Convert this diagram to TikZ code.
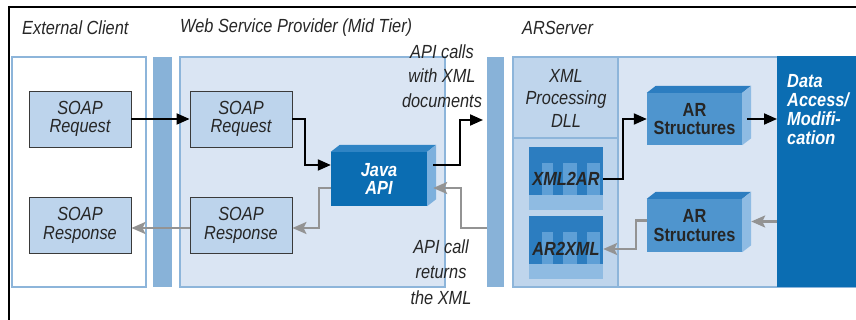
\documentclass[tikz,border=0pt]{standalone}
\usepackage{fontspec}
\setmainfont{Liberation Sans}[FakeStretch=0.86]
\usetikzlibrary{arrows.meta,calc}

\definecolor{edge}{HTML}{8DB5DA}
\definecolor{bar}{HTML}{88B2D8}
\definecolor{pane}{HTML}{DAE5F3}
\definecolor{dll}{HTML}{BFD5EC}
\definecolor{soap}{HTML}{BDD4EC}
\definecolor{boxline}{HTML}{3A3A3A}
\definecolor{deep}{HTML}{0B6DB2}
\definecolor{deeptop}{HTML}{2F84C4}
\definecolor{deepside}{HTML}{7DB0DD}
\definecolor{mid}{HTML}{4F95CE}
\definecolor{midtop}{HTML}{2C7DC0}
\definecolor{midside}{HTML}{8EBBE3}
\definecolor{inset}{HTML}{5E9FD6}
\definecolor{pale}{HTML}{8FBBE2}
\definecolor{ink}{HTML}{262626}
\definecolor{ret}{HTML}{939393}

\newcommand\dfont{\fontsize{19}{18.5}\selectfont}

% top and right faces of a box drawn in perspective
\newcommand\boxfaces[3]{%
  \fill[#2] (#1.north west) -- ++(9,-7) -- ([shift={(9,-7)}]#1.north east) -- (#1.north east) -- cycle;
  \fill[#3] (#1.north east) -- ++(9,-7) -- ([shift={(9,-7)}]#1.south east) -- (#1.south east) -- cycle;}

% converter block with a toothed band, #1 = top edge
\newcommand\toothblock[1]{%
  \fill[pale]  (529,#1) rectangle (603,#1+63);
  \fill[midtop] (529,#1) rectangle (603,#1+48);
  \fill[inset] (542,#1+16) rectangle (553,#1+48);
  \fill[inset] (563,#1+16) rectangle (577,#1+48);
  \fill[inset] (587,#1+16) rectangle (600,#1+48);}

\begin{document}
\begin{tikzpicture}[x=1pt,y=-1pt,
  font=\dfont,
  title/.style={anchor=west, font=\dfont\itshape, text=ink, inner sep=0pt},
  panel/.style={draw=edge, line width=2.5pt},
  soapbox/.style={draw=boxline, fill=soap, line width=0.9pt, minimum width=102pt,
    minimum height=56pt, inner sep=0pt, align=center, font=\dfont\itshape, text=ink},
  solidbox/.style={inner sep=0pt, align=center},
  note/.style={align=center, font=\dfont\itshape, text=ink, inner sep=0pt},
  fwd/.style={line width=2pt, -{Triangle[length=13pt,width=11pt]}},
  back/.style={ret, line width=2.5pt, -{Stealth[length=14pt,width=12pt,inset=3pt]}}]
\useasboundingbox (0,0) rectangle (856,320);

% frame
\draw[line width=2.5pt] (8,7) -- (856,7);
\draw[line width=2.5pt] (9,6) -- (9,320);

% titles
\node[title] (tclient) at (22,28) {External Client};
\node[title] (tweb) at (180,28) {Web Service Provider (Mid Tier)};
\node[title] (tar) at (522,28) {ARServer};

% panels and separators
\filldraw[panel, fill=white] (12,57) rectangle (146,287);
\fill[bar] (153,57) rectangle (172,287);
\filldraw[panel, fill=pane] (180,57) rectangle (445,287);
\fill[bar] (487,57) rectangle (504,287);
\filldraw[panel, fill=pane] (513,57) rectangle (860,287);
\filldraw[panel, fill=dll] (513,57) rectangle (618,287);
\draw[edge, line width=2.5pt] (513,138) -- (618,138);
\node[note] (dllname) at (566,98) {XML\\[4pt]Processing\\[4pt]DLL};

% data store
\node[fill=deep, minimum width=80pt, minimum height=231pt, inner sep=0pt, anchor=north west]
  (store) at (777,56) {};
\node[anchor=north west, align=left, text=white, inner sep=0pt,
  font=\fontsize{19}{19}\selectfont\bfseries\itshape] (storetext) at (787,74)
  {Data\\Access/\\Modifi-\\cation};

% SOAP messages
\node[soapbox] (reqC) at (80,119) {SOAP\\Request};
\node[soapbox] (reqW) at (241,119) {SOAP\\Request};
\node[soapbox] (respC) at (80,225.5) {SOAP\\Response};
\node[soapbox] (respW) at (241,225.5) {SOAP\\Response};

% Java API
\node[solidbox, fill=deep, minimum width=96pt, minimum height=54pt, text=white,
  font=\dfont\bfseries\itshape] (java) at (379,179) {Java\\API};
\boxfaces{java}{deeptop}{deepside}

% AR structures
\node[solidbox, fill=mid, minimum width=95pt, minimum height=52pt, text=ink,
  font=\dfont\bfseries] (ars1) at (694.5,119) {AR\\Structures};
\boxfaces{ars1}{midtop}{midside}
\node[solidbox, fill=mid, minimum width=95pt, minimum height=53pt, text=ink,
  font=\dfont\bfseries] (ars2) at (694.5,225.5) {AR\\Structures};
\boxfaces{ars2}{midtop}{midside}

% converters
\toothblock{147}
\toothblock{216}
\node[solidbox, minimum width=74pt, minimum height=20pt, text=ink,
  font=\dfont\bfseries\itshape] (x2a) at (566,179) {XML2AR};
\node[solidbox, minimum width=74pt, minimum height=20pt, text=ink,
  font=\dfont\bfseries\itshape] (a2x) at (566,249) {AR2XML};

% notes
\node[note] (callsnote) at (442,76) {API calls\\[6pt]with XML\\[6pt]documents};
\node[note] (retnote) at (441,272) {API call\\[7pt]returns\\[7pt]the XML};

% request path
\coordinate (xmlout) at (483,120);
\coordinate (xmlin) at (487,228);
\draw[fwd] (reqC) -- (reqW);
\draw[fwd] (reqW.east) -- ++(13,0) |- ([yshift=14pt]java.west);
\draw[fwd] ([xshift=6pt,yshift=14pt]java.east) -- ++(27,0) |- (xmlout);
\draw[fwd] (x2a.east) -- ++(20,0) |- (ars1.west);
\draw[fwd] ([xshift=5pt]ars1.east) -- (store.west |- ars1.east);

% response path
\draw[back] (xmlin) -- ++(-26,0) |- ([xshift=6pt,yshift=-9pt]java.east);
\draw[back] ([yshift=-9pt]java.west) -- ++(-12,0) |- ([yshift=-2.5pt]respW.east);
\draw[back] ([yshift=-2.5pt]respW.west) -- ([yshift=-2.5pt]respC.east);
\draw[back] ([yshift=4pt]store.west |- ars2.east) -- ([xshift=9pt,yshift=4pt]ars2.east);
\draw[back] ([yshift=5pt]ars2.west) -- ++(-11,0) |- (a2x.east);
\end{tikzpicture}
\end{document}
